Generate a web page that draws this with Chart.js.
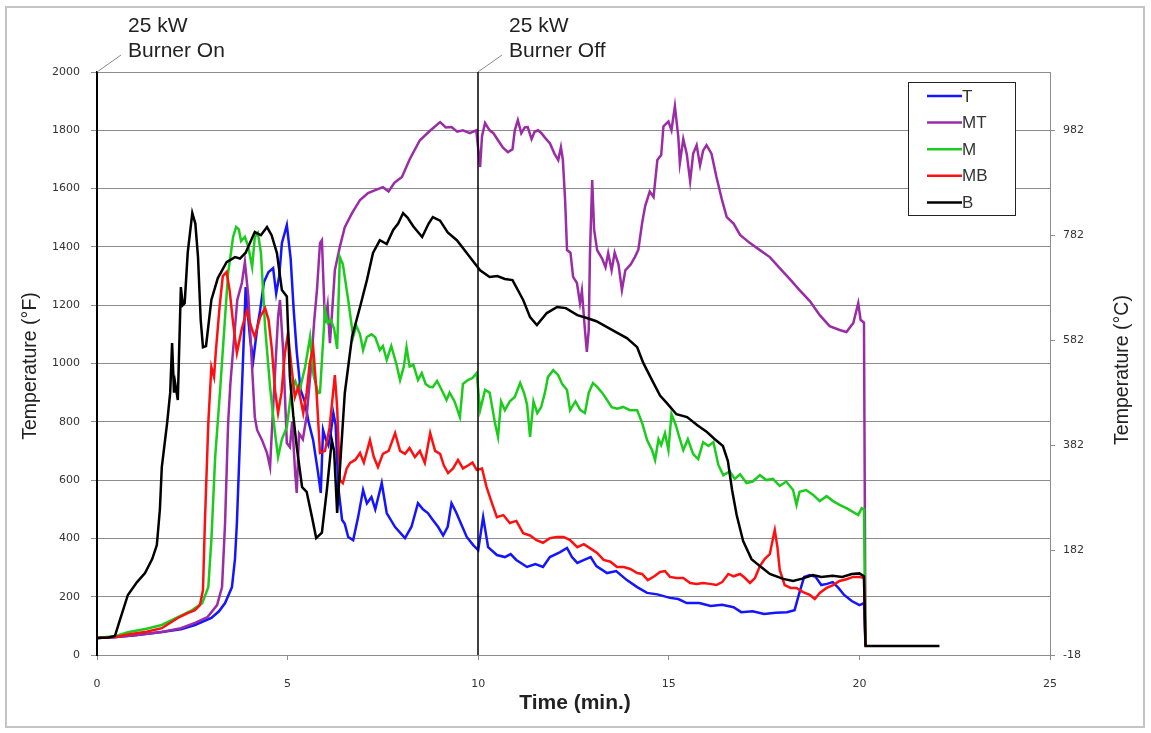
<!DOCTYPE html>
<html>
<head>
<meta charset="utf-8">
<script src="https://cdn.jsdelivr.net/npm/chart.js@4.4.1/dist/chart.umd.min.js"></script>
<style>
  body { margin: 0; background: #fff; }
  #wrap { width: 1151px; height: 733px; }
</style>
</head>
<body>
<div id="wrap"><canvas id="chart" width="1151" height="733"></canvas></div>
<script>
// time (min.) , temperature (F)
const seriesNames = ['T', 'MT', 'M', 'MB', 'B'];
const seriesColors = ['#1414ff', '#9a2ca6', '#1ccc1c', '#ff1010', '#000000'];

const tempT = [[0,58],[0.5,62],[1,68],[1.7,79],[2.2,88],[2.57,103],[3.0,127],[3.2,150],[3.36,178],[3.54,233],[3.62,330],[3.67,453],[3.75,737],[3.84,1046],[3.9,1262],[3.95,1180],[4.02,1080],[4.1,1012],[4.2,1120],[4.28,1183],[4.38,1280],[4.5,1314],[4.62,1327],[4.7,1240],[4.78,1300],[4.85,1413],[4.98,1475],[5.08,1360],[5.16,1183],[5.24,1040],[5.34,909],[5.45,870],[5.55,800],[5.67,737],[5.8,624],[5.87,556],[5.93,772],[6.0,740],[6.07,720],[6.13,760],[6.2,830],[6.26,790],[6.33,576],[6.43,463],[6.5,450],[6.59,405],[6.72,394],[6.85,473],[6.98,566],[7.08,520],[7.2,542],[7.3,500],[7.47,590],[7.6,487],[7.82,439],[8.08,401],[8.25,440],[8.42,521],[8.55,500],[8.68,487],[8.8,465],[8.95,439],[9.08,410],[9.2,440],[9.3,521],[9.42,490],[9.55,450],[9.7,405],[9.87,377],[10.0,360],[10.13,473],[10.26,370],[10.49,343],[10.7,336],[10.85,346],[11.0,326],[11.28,302],[11.5,312],[11.7,302],[11.88,336],[12.15,353],[12.33,367],[12.46,336],[12.6,316],[12.78,326],[12.95,336],[13.1,305],[13.38,281],[13.62,288],[13.9,257],[14.17,233],[14.43,213],[14.7,208],[15.03,196],[15.25,192],[15.47,178],[15.8,178],[16.1,168],[16.4,172],[16.7,164],[16.9,147],[17.2,150],[17.5,141],[17.8,145],[18.1,147],[18.3,154],[18.41,206],[18.55,268],[18.7,274],[18.85,268],[19.0,240],[19.15,244],[19.3,250],[19.45,230],[19.6,206],[19.8,185],[20.0,171],[20.12,178],[20.16,31]];

const tempMT = [[0,58],[0.5,62],[1,68],[1.7,79],[2.2,92],[2.57,110],[2.9,130],[3.15,171],[3.28,233],[3.36,453],[3.44,796],[3.5,933],[3.57,1046],[3.68,1218],[3.8,1276],[3.88,1348],[3.97,1230],[4.05,1030],[4.14,816],[4.2,772],[4.33,737],[4.46,693],[4.54,645],[4.6,800],[4.67,967],[4.75,1159],[4.8,1218],[4.88,1050],[4.98,727],[5.06,713],[5.12,800],[5.2,620],[5.24,556],[5.3,760],[5.4,740],[5.5,820],[5.6,967],[5.7,1150],[5.77,1252],[5.85,1413],[5.9,1423],[5.98,1140],[6.05,1200],[6.11,1070],[6.18,1200],[6.24,1320],[6.37,1400],[6.5,1468],[6.69,1516],[6.9,1561],[7.11,1585],[7.3,1595],[7.5,1605],[7.65,1590],[7.8,1620],[8.0,1640],[8.2,1700],[8.47,1766],[8.75,1800],[9.0,1828],[9.15,1810],[9.3,1811],[9.45,1795],[9.6,1800],[9.78,1790],[9.95,1800],[10.05,1674],[10.1,1780],[10.18,1825],[10.3,1800],[10.4,1790],[10.52,1766],[10.65,1740],[10.78,1725],[10.9,1735],[10.96,1800],[11.04,1835],[11.13,1790],[11.22,1810],[11.3,1811],[11.4,1770],[11.48,1795],[11.57,1800],[11.66,1790],[11.75,1775],[11.88,1756],[12.0,1720],[12.1,1698],[12.17,1742],[12.22,1700],[12.28,1561],[12.33,1389],[12.42,1380],[12.49,1297],[12.59,1276],[12.67,1207],[12.72,1250],[12.8,1115],[12.85,1040],[12.9,1115],[12.93,1365],[12.99,1629],[13.04,1460],[13.12,1389],[13.25,1360],[13.34,1330],[13.41,1379],[13.5,1320],[13.58,1380],[13.68,1340],[13.77,1252],[13.86,1320],[14.0,1340],[14.11,1365],[14.2,1390],[14.3,1482],[14.38,1540],[14.5,1590],[14.6,1571],[14.7,1698],[14.8,1715],[14.86,1814],[14.99,1830],[15.07,1800],[15.16,1883],[15.25,1777],[15.29,1688],[15.38,1770],[15.47,1720],[15.56,1626],[15.64,1720],[15.73,1749],[15.82,1680],[15.9,1730],[15.99,1749],[16.12,1720],[16.25,1640],[16.39,1564],[16.52,1502],[16.7,1480],[16.87,1441],[17.13,1413],[17.39,1389],[17.65,1365],[17.91,1327],[18.17,1290],[18.43,1252],[18.7,1214],[18.96,1166],[19.22,1128],[19.48,1115],[19.66,1108],[19.84,1139],[19.97,1207],[20.03,1150],[20.12,1140],[20.16,31]];

const tempM = [[0,58],[0.5,65],[0.81,78],[1.3,90],[1.7,103],[2.12,130],[2.5,154],[2.76,178],[2.92,233],[3.0,394],[3.1,679],[3.23,909],[3.36,1159],[3.44,1310],[3.57,1434],[3.65,1468],[3.72,1460],[3.78,1420],[3.88,1434],[3.97,1400],[4.07,1331],[4.14,1434],[4.22,1448],[4.3,1380],[4.41,1125],[4.54,919],[4.67,761],[4.75,679],[4.85,740],[4.98,782],[5.11,919],[5.2,940],[5.3,900],[5.46,988],[5.59,1091],[5.68,960],[5.8,898],[5.85,900],[5.98,1183],[6.05,1140],[6.13,1150],[6.22,1120],[6.3,1050],[6.37,1365],[6.45,1340],[6.59,1218],[6.72,1091],[6.8,1130],[6.9,1100],[6.98,1046],[7.08,1091],[7.2,1100],[7.3,1090],[7.42,1046],[7.5,1060],[7.6,1012],[7.72,1060],[7.85,1000],[7.95,943],[8.05,990],[8.12,1056],[8.2,990],[8.3,995],[8.42,943],[8.52,967],[8.62,930],[8.72,920],[8.81,919],[8.92,940],[9.02,915],[9.17,875],[9.25,900],[9.38,870],[9.52,816],[9.6,930],[9.73,943],[9.85,950],[9.96,967],[10.05,840],[10.18,909],[10.3,900],[10.44,796],[10.52,748],[10.6,870],[10.7,840],[10.83,870],[10.96,885],[11.1,933],[11.2,900],[11.28,860],[11.36,748],[11.45,870],[11.55,830],[11.65,850],[11.75,900],[11.83,954],[11.97,977],[12.1,960],[12.2,930],[12.33,909],[12.41,840],[12.55,870],[12.68,840],[12.8,830],[12.9,900],[13.01,933],[13.12,920],[13.25,900],[13.38,875],[13.5,850],[13.65,845],[13.8,851],[13.98,840],[14.17,840],[14.3,796],[14.43,737],[14.56,703],[14.64,669],[14.73,740],[14.8,720],[14.9,761],[14.99,703],[15.07,826],[15.18,790],[15.29,741],[15.38,703],[15.5,740],[15.64,689],[15.77,672],[15.9,730],[16.04,717],[16.17,730],[16.3,652],[16.43,617],[16.6,630],[16.73,604],[16.87,620],[17.04,590],[17.2,595],[17.39,617],[17.56,600],[17.73,604],[17.91,580],[18.08,595],[18.26,566],[18.35,515],[18.43,560],[18.6,566],[18.78,550],[18.96,528],[19.14,545],[19.31,528],[19.48,515],[19.66,504],[19.84,490],[19.97,480],[20.06,504],[20.12,500],[20.16,31]];

const tempMB = [[0,58],[0.5,62],[0.81,70],[1.3,80],[1.7,92],[2.12,127],[2.38,144],[2.57,154],[2.7,171],[2.78,223],[2.83,453],[2.92,796],[3.0,988],[3.07,954],[3.12,1046],[3.22,1200],[3.3,1300],[3.4,1314],[3.48,1250],[3.57,1139],[3.67,1036],[3.8,1120],[3.93,1180],[4.07,1115],[4.14,1091],[4.28,1160],[4.41,1190],[4.5,1150],[4.59,1046],[4.67,909],[4.75,830],[4.84,900],[4.93,1036],[5.01,1104],[5.1,990],[5.19,885],[5.28,919],[5.41,830],[5.5,900],[5.58,1000],[5.67,1056],[5.76,900],[5.85,693],[5.98,700],[6.1,780],[6.24,960],[6.3,850],[6.37,600],[6.45,590],[6.55,640],[6.64,659],[6.78,670],[6.9,693],[7.0,660],[7.16,737],[7.26,680],[7.37,645],[7.5,690],[7.65,700],[7.82,761],[7.95,700],[8.08,690],[8.2,710],[8.34,679],[8.47,700],[8.6,659],[8.74,761],[8.87,700],[9.0,690],[9.1,650],[9.21,624],[9.34,640],[9.47,669],[9.6,640],[9.73,650],[9.85,660],[9.96,635],[10.1,640],[10.22,576],[10.36,521],[10.49,473],[10.66,480],[10.83,453],[11.0,460],[11.18,418],[11.36,410],[11.53,394],[11.7,385],[11.88,401],[12.06,405],[12.24,405],[12.41,394],[12.6,370],[12.77,380],[12.95,365],[13.12,350],[13.29,326],[13.47,320],[13.64,302],[13.82,302],[13.99,295],[14.17,281],[14.3,278],[14.45,257],[14.62,270],[14.77,285],[14.9,288],[15.03,268],[15.2,264],[15.38,264],[15.56,247],[15.73,244],[15.9,247],[16.08,244],[16.25,240],[16.4,250],[16.56,278],[16.7,270],[16.87,278],[17.0,264],[17.13,247],[17.26,264],[17.39,305],[17.52,330],[17.65,346],[17.74,405],[17.78,429],[17.85,370],[17.91,292],[18.04,240],[18.2,230],[18.35,230],[18.52,216],[18.7,206],[18.83,192],[18.96,213],[19.14,230],[19.31,240],[19.48,254],[19.66,260],[19.84,268],[20.0,268],[20.12,264],[20.16,31]];

const tempB = [[0,58],[0.3,60],[0.47,65],[0.6,120],[0.81,206],[1.05,250],[1.26,281],[1.45,330],[1.57,377],[1.65,500],[1.7,645],[1.84,796],[1.92,900],[1.97,1070],[2.02,900],[2.05,933],[2.12,875],[2.2,1262],[2.25,1200],[2.3,1207],[2.38,1380],[2.5,1516],[2.58,1480],[2.65,1365],[2.72,1150],[2.78,1056],[2.86,1060],[3.0,1218],[3.17,1293],[3.4,1348],[3.62,1365],[3.75,1360],[3.9,1380],[4.0,1410],[4.14,1451],[4.3,1440],[4.46,1468],[4.58,1440],[4.72,1379],[4.85,1252],[4.98,1230],[5.06,954],[5.15,820],[5.24,714],[5.38,576],[5.5,560],[5.64,473],[5.75,401],[5.9,420],[6.03,566],[6.16,737],[6.22,700],[6.3,487],[6.37,634],[6.5,898],[6.69,1091],[6.9,1194],[7.08,1286],[7.24,1379],[7.42,1423],[7.6,1410],[7.77,1458],[7.9,1480],[8.03,1516],[8.15,1500],[8.3,1470],[8.53,1434],[8.7,1480],[8.81,1502],[9.0,1490],[9.2,1450],[9.44,1423],[9.7,1379],[10.05,1320],[10.3,1297],[10.5,1300],[10.7,1290],[10.9,1286],[11.18,1218],[11.36,1159],[11.54,1132],[11.8,1173],[12.07,1194],[12.3,1190],[12.6,1166],[12.85,1156],[13.1,1145],[13.38,1125],[13.65,1105],[13.9,1087],[14.17,1056],[14.33,1002],[14.56,943],[14.77,890],[14.95,864],[15.2,826],[15.48,816],[15.74,789],[16.0,765],[16.2,741],[16.42,717],[16.55,665],[16.66,566],[16.78,480],[16.95,391],[17.17,329],[17.39,305],[17.65,278],[18.0,261],[18.26,254],[18.5,262],[18.78,274],[19.0,268],[19.3,272],[19.55,268],[19.8,278],[20.0,280],[20.12,270],[20.16,31],[22.1,31]];

const timeTicks = [0, 5, 10, 15, 20, 25];
const celsiusTicks = [-18, 182, 382, 582, 782, 982];
const burnerMarks = [[0, '25 kW', 'Burner On'], [10, '25 kW', 'Burner Off']];

const allSeries = [tempT, tempMT, tempM, tempMB, tempB];

const datasets = allSeries.map((s, i) => ({
    label: seriesNames[i],
    data: s.map(p => ({x: p[0], y: p[1]})),
    borderColor: seriesColors[i],
    backgroundColor: seriesColors[i],
    borderWidth: 2.5,
    pointRadius: 0,
    tension: 0,
    order: 5 - i
}));

const fToC = f => (f - 32) * 5 / 9;

const extras = {
    id: 'extras',
    afterDatasetsDraw(chart) {
        const ctx = chart.ctx;
        const area = chart.chartArea;
        const x = chart.scales.x;
        ctx.save();

        // burner markers
        for (const m of burnerMarks) {
            const px = Math.round(x.getPixelForValue(m[0]));
            ctx.strokeStyle = '#000';
            ctx.lineWidth = m[0] === 0 ? 2 : 1.5;
            ctx.beginPath();
            ctx.moveTo(px, area.bottom);
            ctx.lineTo(px, area.top);
            ctx.stroke();
            ctx.strokeStyle = '#8a8a8a';
            ctx.lineWidth = 1;
            ctx.beginPath();
            ctx.moveTo(px, area.top);
            ctx.lineTo(px + 24, area.top - 17);
            ctx.stroke();
            ctx.fillStyle = '#222';
            ctx.font = '21px "Liberation Sans", Arial, sans-serif';
            ctx.textAlign = 'left';
            ctx.textBaseline = 'alphabetic';
            ctx.fillText(m[1], px + 31, 32);
            ctx.fillText(m[2], px + 31, 57);
        }

        // legend box
        const lx = 908, ly = 82, lw = 107, lh = 133;
        ctx.fillStyle = '#fff';
        ctx.fillRect(lx, ly, lw, lh);
        ctx.strokeStyle = '#222';
        ctx.lineWidth = 1;
        ctx.strokeRect(lx + 0.5, ly + 0.5, lw, lh);
        ctx.font = '17px "Liberation Sans", Arial, sans-serif';
        ctx.textBaseline = 'middle';
        seriesNames.forEach((name, i) => {
            const yy = 96 + i * 26.6;
            ctx.strokeStyle = seriesColors[i];
            ctx.lineWidth = 2.5;
            ctx.beginPath();
            ctx.moveTo(927, yy);
            ctx.lineTo(962, yy);
            ctx.stroke();
            ctx.fillStyle = '#333';
            ctx.fillText(name, 962, yy + 1);
        });

        // axis titles
        ctx.fillStyle = '#222';
        ctx.textAlign = 'center';
        ctx.font = 'bold 21px "Liberation Sans", Arial, sans-serif';
        ctx.fillText('Time (min.)', 575, 703);
        ctx.font = '19.5px "Liberation Sans", Arial, sans-serif';
        ctx.save();
        ctx.translate(31, 366);
        ctx.rotate(-Math.PI / 2);
        ctx.fillText('Temperature (°F)', 0, 0);
        ctx.restore();
        ctx.save();
        ctx.translate(1123, 370);
        ctx.rotate(-Math.PI / 2);
        ctx.fillText('Temperature (°C)', 0, 0);
        ctx.restore();

        // outer frame
        ctx.strokeStyle = '#c4c4c4';
        ctx.lineWidth = 2;
        ctx.strokeRect(6, 7, 1138, 720);
        ctx.restore();
    }
};

new Chart(document.getElementById('chart').getContext('2d'), {
    type: 'line',
    data: {datasets: datasets},
    options: {
        responsive: false,
        animation: false,
        devicePixelRatio: 1,
        layout: {padding: {top: 72, left: 0, right: 0, bottom: 0}},
        plugins: {
            legend: {display: false},
            tooltip: {enabled: false}
        },
        scales: {
            x: {
                type: 'linear',
                min: 0,
                max: 25,
                afterBuildTicks: s => { s.ticks = timeTicks.map(v => ({value: v})); },
                afterFit: s => { s.height = 78; },
                ticks: {
                    color: '#333',
                    font: {family: '"DejaVu Sans", sans-serif', size: 11},
                    padding: 18,
                    maxRotation: 0,
                    callback: v => String(v)
                },
                grid: {drawOnChartArea: false, color: '#8c8c8c', tickLength: 5},
                border: {color: '#8c8c8c', width: 1}
            },
            y: {
                position: 'left',
                min: 0,
                max: 2000,
                ticks: {
                    stepSize: 200,
                    color: '#333',
                    font: {family: '"DejaVu Sans", sans-serif', size: 11},
                    padding: 11,
                    callback: v => String(v)
                },
                afterFit: s => { s.width = 97; },
                grid: {color: '#8c8c8c', lineWidth: 1, tickLength: 6},
                border: {color: '#000', width: 2}
            },
            y2: {
                position: 'right',
                min: fToC(0),
                max: fToC(2000),
                afterBuildTicks: s => { s.ticks = celsiusTicks.map(v => ({value: v + 0.22})); },
                afterFit: s => { s.width = 101; },
                ticks: {
                    color: '#333',
                    font: {family: '"DejaVu Sans", sans-serif', size: 11},
                    padding: 8,
                    callback: v => String(Math.round(v))
                },
                grid: {drawOnChartArea: false, color: '#8c8c8c', tickLength: 5},
                border: {color: '#8c8c8c', width: 1}
            }
        }
    },
    plugins: [extras]
});
</script>
</body>
</html>
